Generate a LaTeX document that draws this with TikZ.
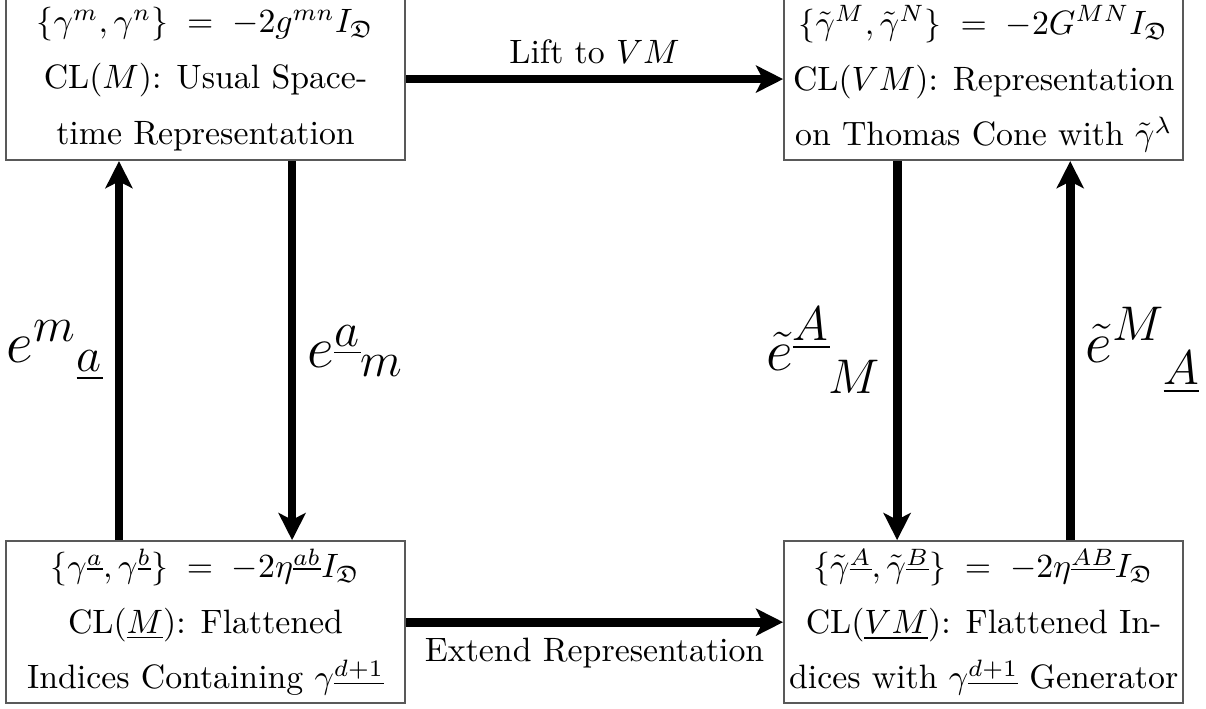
\documentclass[tikz,border=0pt]{standalone}
\usepackage{amsmath,amsfonts}
\usetikzlibrary{arrows.meta, positioning, calc}

\tikzset{
  cliffbox/.style={draw=black!65, line width=0.6pt, rectangle, minimum width=4.15cm,
    minimum height=1.685cm, align=center, inner sep=0pt,
    font=\fontsize{10}{16.5}\selectfont},
  maparrow/.style={line width=2.6pt, -{Stealth[length=8pt, width=8pt, inset=2pt]}},
  framelabel/.style={font=\fontsize{19}{22}\selectfont},
}

\begin{document}
\begin{tikzpicture}
        \useasboundingbox (0,0) rectangle (12.54,-7.363);

        % Box centres and offset of the vertical arrows
        \def\xLeft{2.137}
        \def\xRight{10.228}
        \def\yTop{-0.822}
        \def\yBot{-6.469}
        \def\dx{0.9cm}

        % Boxes
        \node[cliffbox] (clM) at (\xLeft,\yTop)
            {$\{\gamma^m,\gamma^n\}\;=\;-2g^{mn}I_{\mathfrak{D}}$\\
             CL$(M)$: Usual Space-\\time Representation};
        \node[cliffbox] (clVM) at (\xRight,\yTop)
            {$\{\tilde\gamma^M,\tilde\gamma^N\}\;=\;-2G^{MN}I_{\mathfrak{D}}$\\
             CL$(VM)$: Representation\\on Thomas Cone with $\tilde\gamma^\lambda$};
        \node[cliffbox] (flatM) at (\xLeft,\yBot)
            {$\{\gamma^{\underline{a}},\gamma^{\underline{b}}\}\;=\;-2\eta^{\underline{ab}}I_{\mathfrak{D}}$\\
             CL$(\underline{M})$: Flattened\\Indices Containing $\gamma^{\underline{d+1}}$};
        \node[cliffbox] (flatVM) at (\xRight,\yBot)
            {$\{\tilde\gamma^{\underline{A}},\tilde\gamma^{\underline{B}}\}\;=\;-2\eta^{\underline{AB}}I_{\mathfrak{D}}$\\
             CL$(\underline{VM})$: Flattened In-\\dices with $\gamma^{\underline{d+1}}$ Generator};

        % Horizontal arrows
        \draw[maparrow] (clM) -- node[above] {Lift to $VM$} (clVM);
        \draw[maparrow] (flatM) -- node[below] {Extend Representation} (flatVM);

        % Vertical arrows (vielbeins)
        \draw[maparrow] ([xshift=-\dx]flatM.north) -- node[left, framelabel] {$e^{m}{}_{\underline{a}}$} ([xshift=-\dx]clM.south);
        \draw[maparrow] ([xshift=\dx]clM.south) -- node[right, framelabel] {$e^{\underline{a}}{}_{m}$} ([xshift=\dx]flatM.north);
        \draw[maparrow] ([xshift=-\dx]clVM.south) -- node[left, framelabel] {$\tilde{e}^{\underline{A}}_{\hphantom{\underline{A}}M}$} ([xshift=-\dx]flatVM.north);
        \draw[maparrow] ([xshift=\dx]flatVM.north) -- node[right, framelabel] {$\tilde{e}^{M}_{\hphantom{M}\underline{A}}$} ([xshift=\dx]clVM.south);
\end{tikzpicture}
\end{document}
